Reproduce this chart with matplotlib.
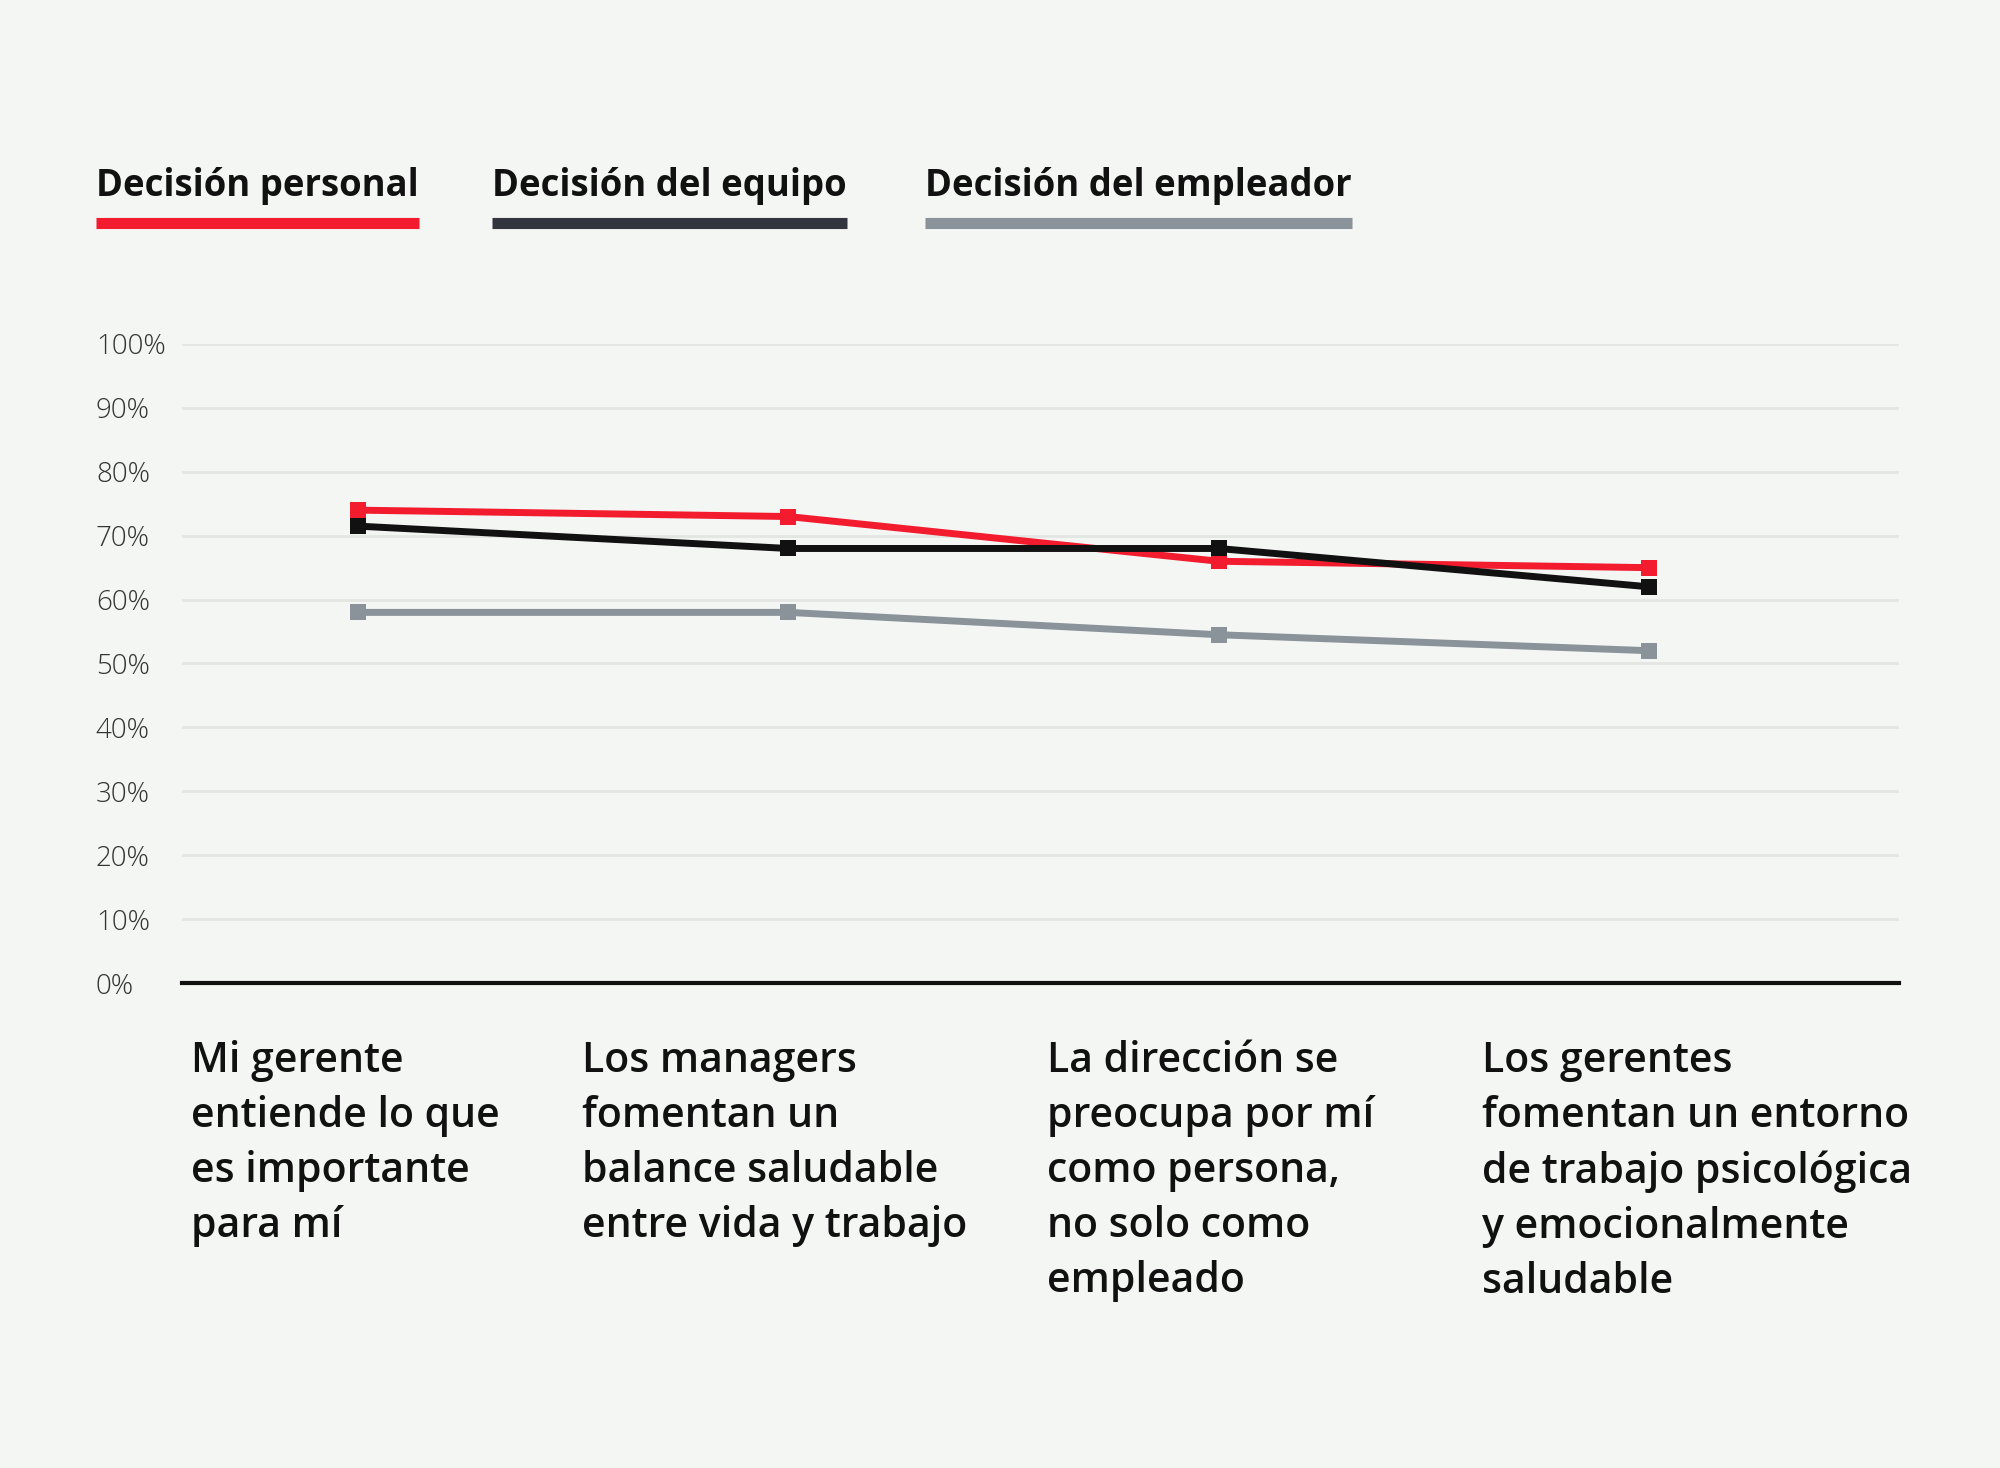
import matplotlib
matplotlib.use("Agg")
import matplotlib.pyplot as plt
from matplotlib.lines import Line2D

# data
series_names = ["Decisión personal", "Decisión del equipo", "Decisión del empleador"]
personal = [74, 73, 66, 65]
equipo = [71.5, 68, 68, 62]
empleador = [58, 58, 54.5, 52]
categories = [
    "Mi gerente\nentiende lo que\nes importante\npara mí",
    "Los managers\nfomentan un\nbalance saludable\nentre vida y trabajo",
    "La dirección se\npreocupa por mí\ncomo persona,\nno solo como\nempleado",
    "Los gerentes\nfomentan un entorno\nde trabajo psicológica\ny emocionalmente\nsaludable",
]
y_ticks = [0, 10, 20, 30, 40, 50, 60, 70, 80, 90, 100]
y_tick_labels = [f"{v}%" for v in y_ticks]

line_colors = ["#f21c2e", "#111111", "#8a9399"]
legend_colors = ["#f21c2e", "#32353d", "#8a9399"]
BG = "#f4f6f4"
FONT = "Open Sans"

W, H = 2000, 1468
fig = plt.figure(figsize=(W / 100, H / 100), dpi=100, facecolor=BG)
ax = fig.add_axes([182 / W, 1 - 983 / H, (1899 - 182) / W, (983 - 344) / H])
ax.set_facecolor(BG)

x = list(range(len(categories)))
# draw order: gray under red under black
for vals, col, z in [(empleador, line_colors[2], 3), (personal, line_colors[0], 4), (equipo, line_colors[1], 5)]:
    ax.plot(x, vals, color=col, lw=5, marker="s", markersize=11, markeredgewidth=0,
            zorder=z, clip_on=False, solid_joinstyle="miter")

ax.set_xlim(-0.409, 3.581)
ax.set_ylim(0, 100)
ax.set_xticks([])
ax.set_yticks(y_ticks, y_tick_labels)
ax.tick_params(axis="y", length=0, pad=62, labelsize=20, labelcolor="#333333")
for lbl in ax.get_yticklabels():
    lbl.set_ha("left")
    lbl.set_family(FONT)
    lbl.set_weight("light")
ax.grid(axis="y", color="#e3e6e3", lw=2, zorder=0)
for s in ["top", "left", "right"]:
    ax.spines[s].set_visible(False)
ax.spines["bottom"].set_color("#111111")
ax.spines["bottom"].set_linewidth(3)
ax.spines["bottom"].set_zorder(6)

# category labels under the axis
label_left = [191, 582, 1047, 1482]
for lx, txt in zip(label_left, categories):
    fig.text(lx / W, 1 - 1040 / H, txt, ha="left", va="top", fontsize=29.5,
             family=FONT, weight="semibold", color="#111111", linespacing=1.41)

# legend: bold label with a thick bar under it
legend_left = [96, 492, 925]
renderer = fig.canvas.get_renderer()
for lx, name, col in zip(legend_left, series_names, legend_colors):
    t = fig.text(lx / W, 1 - 186 / H, name, ha="left", va="center", fontsize=26.3,
                 family=FONT, weight="bold", color="#111111")
    bb = t.get_window_extent(renderer)
    fig.add_artist(Line2D([bb.x0 / W, bb.x1 / W], [1 - 223 / H, 1 - 223 / H],
                          transform=fig.transFigure, color=col, lw=8, solid_capstyle="butt"))

fig.savefig("out.png", dpi=100, facecolor=BG)
